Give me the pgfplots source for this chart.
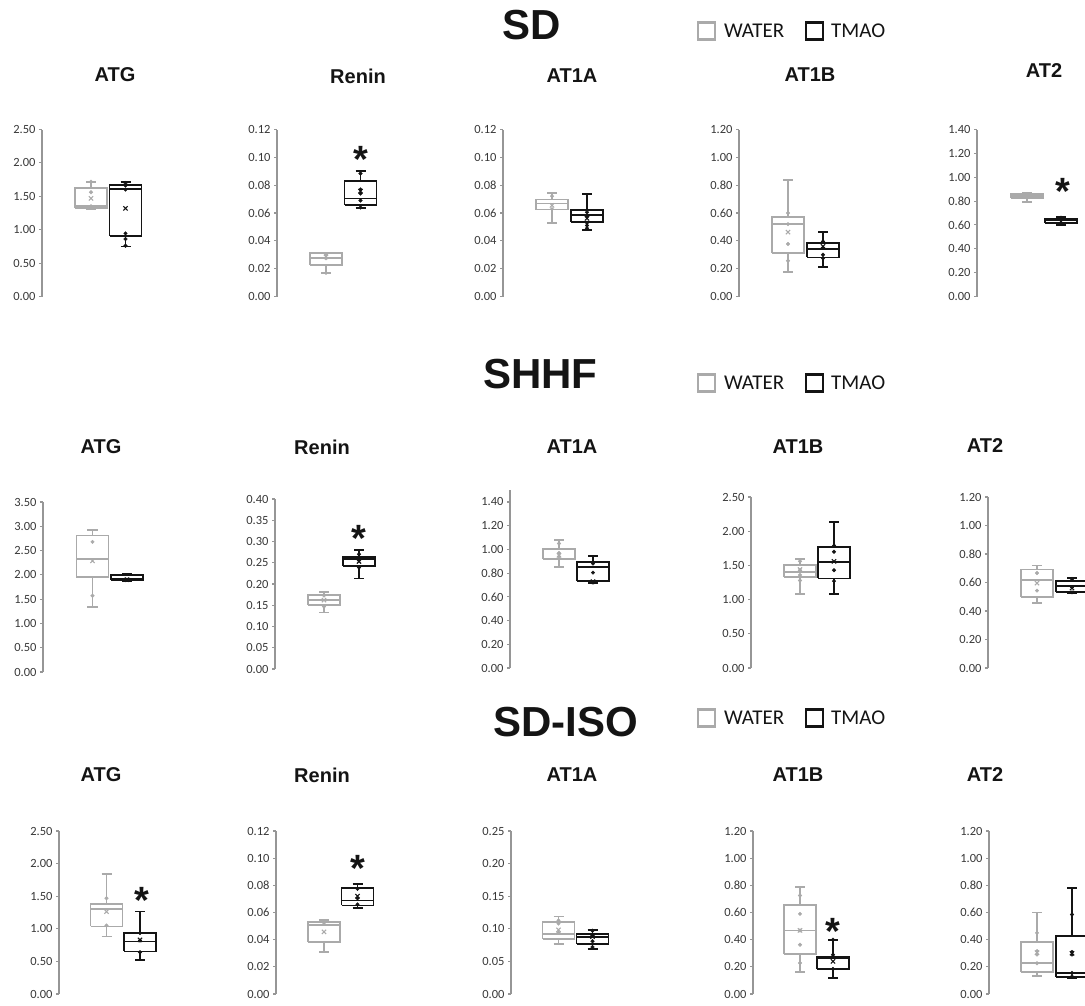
\documentclass[border=0pt]{standalone}
\usepackage{fontspec}
\setmainfont{Carlito}
\newfontfamily\arial{Liberation Sans}
\usepackage{pgfplots}
\pgfplotsset{compat=1.18}
\definecolor{wgray}{RGB}{170,170,170}
\definecolor{tblack}{RGB}{20,20,20}
\definecolor{axgray}{RGB}{150,150,150}
\definecolor{labgray}{RGB}{55,55,55}
\pgfplotsset{
 panel/.style={scale only axis, width=100pt, xmin=0, xmax=100, ymin=0,
   hide x axis, axis y line*=left, clip=false, tick align=outside, ytick pos=left,
   major tick length=3pt, axis line style={draw=axgray, line width=1.1pt},
   major tick style={draw=axgray, line width=1.1pt},
   /pgf/number format/fixed, /pgf/number format/fixed zerofill,
   /pgf/number format/precision=2, /pgf/number format/assume math mode=true,
   yticklabel style={font=\fontsize{12.5}{14}\selectfont, text=labgray},
   anchor=south west},
 wline/.style={draw=wgray, line width=1.8pt, solid, mark=none, line join=miter},
 tline/.style={draw=tblack, line width=1.8pt, solid, mark=none, line join=miter},
 wmean/.style={only marks, mark=x, mark size=3pt, color=wgray, line width=1.1pt},
 tmean/.style={only marks, mark=x, mark size=3pt, color=tblack, line width=1.1pt},
 wdot/.style={only marks, mark=*, mark size=1.8pt, color=wgray},
 tdot/.style={only marks, mark=*, mark size=1.8pt, color=tblack},
}
% box: #1 style, #2 position, #3 lower whisker, #4 lower quartile, #5 median, #6 upper quartile, #7 upper whisker
\newcommand{\bx}[7]{%
  \pgfmathsetmacro{\xl}{#2-16}\pgfmathsetmacro{\xr}{#2+16}%
  \pgfmathsetmacro{\cl}{#2-5}\pgfmathsetmacro{\cr}{#2+5}%
  \addplot[#1] coordinates {(#2,#6) (#2,#7)};
  \addplot[#1] coordinates {(#2,#4) (#2,#3)};
  \addplot[#1] coordinates {(\cl,#7) (\cr,#7)};
  \addplot[#1] coordinates {(\cl,#3) (\cr,#3)};
  \addplot[#1] coordinates {(\xl,#4) (\xr,#4) (\xr,#6) (\xl,#6) (\xl,#4)};
  \addplot[#1] coordinates {(\xl,#5) (\xr,#5)};
}
\newcommand{\ptitle}{\arial\bfseries\fontsize{20}{24}\selectfont}
\newcommand{\btitle}{\arial\bfseries\fontsize{42}{48}\selectfont}
\newcommand{\sigstar}{\arial\bfseries\fontsize{38}{40}\selectfont *}
\tikzset{sig/.style={inner sep=0pt, anchor=center, yshift=-8pt, text=tblack}}
\begin{document}
\begin{tikzpicture}
\useasboundingbox (0,0) rectangle (1085pt,-1005pt);
% ---------- big titles and legends ----------
\node[anchor=west, inner sep=0pt, text=tblack] at (502pt,-25pt) {\btitle SD};
\node[anchor=west, inner sep=0pt, text=tblack] at (483pt,-374pt) {\btitle SHHF};
\node[anchor=west, inner sep=0pt, text=tblack] at (493pt,-722pt) {\btitle SD-ISO};
\foreach \ly in {31,383,718}{
  \draw[wgray, line width=2.6pt] (698pt,-\ly pt+8.5pt) rectangle (715pt,-\ly pt-8.5pt);
  \node[anchor=west, inner sep=0pt, text=tblack] at (724pt,-\ly pt) {\fontsize{21}{24}\selectfont WATER};
  \draw[tblack, line width=2.6pt] (806pt,-\ly pt+8.5pt) rectangle (823pt,-\ly pt-8.5pt);
  \node[anchor=west, inner sep=0pt, text=tblack] at (831pt,-\ly pt) {\fontsize{21}{24}\selectfont TMAO};
}
% ---------- panel titles ----------
\foreach \tx/\ty/\tt in {115/75/ATG, 358/76/Renin, 572/76/AT1A, 810/75/AT1B, 1044/71/AT2,
   101/447/ATG, 322/447/Renin, 572/447/AT1A, 798/447/AT1B, 985/446/AT2,
   101/775/ATG, 322/775/Renin, 572/775/AT1A, 798/775/AT1B, 985/775/AT2}{
  \node[inner sep=0pt, text=tblack] at (\tx pt,-\ty pt) {\ptitle \tt};
}
% ================= ROW 1 : SD =================
\begin{axis}[panel, at={(42pt,-296.5pt)}, height=167pt, ymax=2.5, ytick={0,0.5,1,1.5,2,2.5}]
\bx{wline}{49}{1.31}{1.33}{1.35}{1.62}{1.72}
\addplot[wmean] coordinates {(49,1.47)};
\addplot[wdot] coordinates {(49,1.72) (49,1.56) (49,1.35) (49,1.33)};
\bx{tline}{83.5}{0.75}{0.90}{1.61}{1.675}{1.72}
\addplot[tmean] coordinates {(83.5,1.32)};
\addplot[tdot] coordinates {(83.5,1.70) (83.5,1.66) (83.5,1.60) (83.5,0.945) (83.5,0.86) (83.5,0.76)};
\end{axis}
\begin{axis}[panel, at={(277pt,-296.5pt)}, height=167pt, ymax=0.12, ytick={0,0.02,0.04,0.06,0.08,0.10,0.12}]
\bx{wline}{49}{0.0169}{0.0224}{0.0277}{0.031}{0.0313}
\addplot[wmean] coordinates {(49,0.0285)};
\addplot[wdot] coordinates {(49,0.0300) (49,0.0275) (49,0.0170)};
\bx{tline}{83.5}{0.0634}{0.066}{0.0704}{0.0829}{0.0904}
\addplot[tmean] coordinates {(83.5,0.0757)};
\addplot[tdot] coordinates {(83.5,0.0884) (83.5,0.0769) (83.5,0.0740) (83.5,0.0690) (83.5,0.0640)};
\node[sig] at (axis cs:83.5,0.104) {\sigstar};
\end{axis}
\begin{axis}[panel, at={(503pt,-296.5pt)}, height=167pt, ymax=0.12, ytick={0,0.02,0.04,0.06,0.08,0.10,0.12}]
\bx{wline}{49}{0.0529}{0.0625}{0.0668}{0.0697}{0.0745}
\addplot[wmean] coordinates {(49,0.0655)};
\addplot[wdot] coordinates {(49,0.0721) (49,0.0628)};
\bx{tline}{84}{0.048}{0.0534}{0.0584}{0.062}{0.0738}
\addplot[tmean] coordinates {(84,0.0562)};
\addplot[tdot] coordinates {(84,0.0605) (84,0.0575) (84,0.0530) (84,0.0510) (84,0.0490)};
\end{axis}
\begin{axis}[panel, at={(739pt,-296.5pt)}, height=167pt, ymax=1.2, ytick={0,0.2,0.4,0.6,0.8,1.0,1.2}]
\bx{wline}{49}{0.178}{0.312}{0.521}{0.569}{0.835}
\addplot[wmean] coordinates {(49,0.463)};
\addplot[wdot] coordinates {(49,0.60) (49,0.52) (49,0.377) (49,0.257)};
\bx{tline}{84}{0.211}{0.281}{0.341}{0.384}{0.463}
\addplot[tmean] coordinates {(84,0.36)};
\addplot[tdot] coordinates {(84,0.395) (84,0.35) (84,0.30) (84,0.275)};
\end{axis}
\begin{axis}[panel, at={(977pt,-296.5pt)}, height=167pt, ymax=1.4, ytick={0,0.2,0.4,0.6,0.8,1.0,1.2,1.4}]
\bx{wline}{50}{0.792}{0.828}{0.844}{0.861}{0.869}
\addplot[wmean] coordinates {(50,0.85)};
\addplot[wdot] coordinates {(50,0.86)};
\bx{tline}{84}{0.597}{0.619}{0.639}{0.653}{0.667}
\addplot[tmean] coordinates {(84,0.63)};
\addplot[tdot] coordinates {(84,0.66) (84,0.61)};
\node[sig] at (axis cs:86,0.95) {\sigstar};
\end{axis}
% ================= ROW 2 : SHHF =================
\begin{axis}[panel, at={(43pt,-672pt)}, height=170pt, ymax=3.5, ytick={0,0.5,1,1.5,2,2.5,3,3.5}]
\bx{wline}{49.5}{1.34}{1.95}{2.33}{2.81}{2.93}
\addplot[wmean] coordinates {(49.5,2.29)};
\addplot[wdot] coordinates {(49.5,2.68) (49.5,1.57)};
\bx{tline}{84}{1.88}{1.89}{1.92}{1.99}{2.02}
\addplot[tmean] coordinates {(84,1.90)};
\addplot[tdot] coordinates {(84,1.90)};
\end{axis}
\begin{axis}[panel, at={(275pt,-669pt)}, height=170pt, ymax=0.4, ytick={0,0.05,0.10,0.15,0.20,0.25,0.30,0.35,0.40}]
\bx{wline}{49}{0.133}{0.151}{0.162}{0.175}{0.182}
\addplot[wmean] coordinates {(49,0.162)};
\addplot[wdot] coordinates {(49,0.173) (49,0.147)};
\bx{tline}{84}{0.213}{0.242}{0.259}{0.264}{0.280}
\addplot[tmean] coordinates {(84,0.253)};
\addplot[tdot] coordinates {(84,0.270) (84,0.256) (84,0.239)};
\node[sig] at (axis cs:84,0.325) {\sigstar};
\end{axis}
\begin{axis}[panel, at={(510pt,-668pt)}, height=177.9pt, ymax=1.5, ytick={0,0.2,0.4,0.6,0.8,1.0,1.2,1.4}]
\bx{wline}{49}{0.849}{0.919}{0.924}{1.003}{1.076}
\addplot[wmean] coordinates {(49,0.95)};
\addplot[wdot] coordinates {(49,1.05) (49,0.97) (49,0.94)};
\bx{tline}{83}{0.714}{0.731}{0.849}{0.896}{0.944}
\addplot[tmean] coordinates {(83,0.728)};
\addplot[tdot] coordinates {(83,0.88) (83,0.804) (83,0.72)};
\end{axis}
\begin{axis}[panel, at={(751pt,-668pt)}, height=171pt, ymax=2.5, ytick={0,0.5,1,1.5,2,2.5}]
\bx{wline}{49}{1.087}{1.325}{1.408}{1.506}{1.598}
\addplot[wmean] coordinates {(49,1.44)};
\addplot[wdot] coordinates {(49,1.56) (49,1.43) (49,1.36) (49,1.28)};
\bx{tline}{83}{1.08}{1.31}{1.55}{1.77}{2.13}
\addplot[tmean] coordinates {(83,1.56)};
\addplot[tdot] coordinates {(83,1.79) (83,1.70) (83,1.43) (83,1.27)};
\end{axis}
\begin{axis}[panel, at={(988pt,-668pt)}, height=171pt, ymax=1.2, ytick={0,0.2,0.4,0.6,0.8,1.0,1.2}]
\bx{wline}{49}{0.456}{0.498}{0.615}{0.692}{0.72}
\addplot[wmean] coordinates {(49,0.596)};
\addplot[wdot] coordinates {(49,0.667) (49,0.543)};
\bx{tline}{84}{0.526}{0.533}{0.573}{0.613}{0.632}
\addplot[tmean] coordinates {(84,0.56)};
\addplot[tdot] coordinates {(84,0.625) (84,0.566) (84,0.531)};
\end{axis}
% ================= ROW 3 : SD-ISO =================
\begin{axis}[panel, at={(59pt,-994pt)}, height=163pt, ymax=2.5, ytick={0,0.5,1,1.5,2,2.5}]
\bx{wline}{47.5}{0.883}{1.036}{1.306}{1.38}{1.84}
\addplot[wmean] coordinates {(47.5,1.265)};
\addplot[wdot] coordinates {(47.5,1.47) (47.5,1.05)};
\bx{tline}{81}{0.526}{0.653}{0.806}{0.934}{1.265}
\addplot[tmean] coordinates {(81,0.83)};
\addplot[tdot] coordinates {(81,0.934) (81,0.82) (81,0.64)};
\node[sig] at (axis cs:83,1.56) {\sigstar};
\end{axis}
\begin{axis}[panel, at={(276pt,-994pt)}, height=163pt, ymax=0.12, ytick={0,0.02,0.04,0.06,0.08,0.10,0.12}]
\bx{wline}{48}{0.0307}{0.0381}{0.0507}{0.0531}{0.0543}
\addplot[wmean] coordinates {(48,0.0457)};
\addplot[wdot] coordinates {(48,0.0524)};
\bx{tline}{81.5}{0.0634}{0.0652}{0.0688}{0.0782}{0.0811}
\addplot[tmean] coordinates {(81.5,0.072)};
\addplot[tdot] coordinates {(81.5,0.0775) (81.5,0.0705) (81.5,0.066)};
\node[sig] at (axis cs:82,0.098) {\sigstar};
\end{axis}
\begin{axis}[panel, at={(511pt,-994pt)}, height=163pt, ymax=0.25, ytick={0,0.05,0.10,0.15,0.20,0.25}]
\bx{wline}{47.5}{0.077}{0.0842}{0.0923}{0.110}{0.119}
\addplot[wmean] coordinates {(47.5,0.0985)};
\addplot[wdot] coordinates {(47.5,0.113) (47.5,0.108) (47.5,0.094)};
\bx{tline}{81.5}{0.0689}{0.077}{0.0872}{0.0923}{0.0985}
\addplot[tmean] coordinates {(81.5,0.088)};
\addplot[tdot] coordinates {(81.5,0.097) (81.5,0.090) (81.5,0.081) (81.5,0.072)};
\end{axis}
\begin{axis}[panel, at={(753pt,-994pt)}, height=163pt, ymax=1.2, ytick={0,0.2,0.4,0.6,0.8,1.0,1.2}]
\bx{wline}{47}{0.162}{0.294}{0.468}{0.657}{0.787}
\addplot[wmean] coordinates {(47,0.468)};
\addplot[wdot] coordinates {(47,0.725) (47,0.59) (47,0.468) (47,0.363) (47,0.228)};
\bx{tline}{80}{0.118}{0.186}{0.265}{0.272}{0.40}
\addplot[tmean] coordinates {(80,0.24)};
\addplot[tdot] coordinates {(80,0.40) (80,0.289) (80,0.184)};
\node[sig] at (axis cs:80,0.52) {\sigstar};
\end{axis}
\begin{axis}[panel, at={(989pt,-994pt)}, height=163pt, ymax=1.2, ytick={0,0.2,0.4,0.6,0.8,1.0,1.2}]
\bx{wline}{48}{0.134}{0.163}{0.226}{0.385}{0.60}
\addplot[wmean] coordinates {(48,0.304)};
\addplot[wdot] coordinates {(48,0.45) (48,0.316) (48,0.29) (48,0.226)};
\bx{tline}{83}{0.12}{0.125}{0.155}{0.43}{0.78}
\addplot[tmean] coordinates {(83,0.30)};
\addplot[tdot] coordinates {(83,0.585) (83,0.31) (83,0.29) (83,0.155) (83,0.13)};
\end{axis}
\end{tikzpicture}
\end{document}
